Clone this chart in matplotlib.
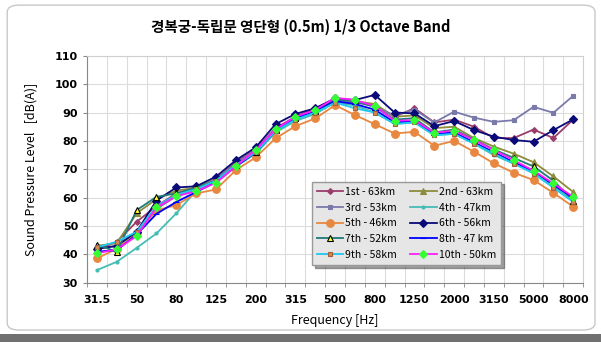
import matplotlib.pyplot as plt
import numpy as np
from matplotlib.patches import FancyBboxPatch, Rectangle

plt.rcParams['font.family'] = ['Noto Sans CJK KR', 'DejaVu Sans']

# 1/3 octave band centre frequencies
bands = ["31.5", "40", "50", "63", "80", "100", "125", "160", "200", "250", "315",
         "400", "500", "630", "800", "1000", "1250", "1600", "2000", "2500",
         "3150", "4000", "5000", "6300", "8000"]

s1 = [41.5, 44.5, 51.5, 57, 61.5, 63.5, 66.5, 72.5, 77, 84.5, 88.5, 91.5, 94.5,
      93.5, 92.5, 88.5, 91.5, 86.5, 87.5, 85, 81, 81, 84, 81, 87.5]
s2 = [43, 44, 54.5, 59.5, 62.5, 63.5, 66.5, 72, 76.5, 84, 88, 90.5, 94.5,
      94, 93, 88.5, 89, 84.5, 85, 81, 78, 75.5, 72.5, 67.5, 62]
s3 = [42, 43, 48, 56, 60.5, 63, 66.5, 72, 77, 84, 88, 90.5, 94,
      94, 92, 89, 91, 86.5, 90.3, 88.2, 86.7, 87.3, 92, 89.9, 95.9]
s4 = [34.5, 37.4, 42.3, 47.4, 54.5, 62.5, 65.5, 71, 75.5, 83, 87, 89.5, 93.5,
      92.5, 90, 86, 86.5, 82, 82.5, 79, 75, 72, 69, 64, 59]
s5 = [38.6, 42, 47.5, 55.5, 57.4, 61.5, 62.9, 69.7, 74.2, 80.9, 85.2, 87.9, 92.6,
      89.1, 85.9, 82.6, 83.2, 78.3, 80, 76.2, 72.1, 68.8, 66.2, 61.7, 56.8]
s6 = [42, 43, 48, 59, 63.6, 64, 67.4, 73.2, 77.7, 85.9, 89.5, 91.5, 95,
      94.4, 96.2, 90, 89.7, 85.2, 87, 83.8, 81.5, 80.3, 79.7, 83.8, 87.6]
s7 = [43.5, 40.9, 55.6, 60.3, 61.5, 63.5, 66, 71.5, 76, 84, 88, 90.5, 94.5,
      94, 92, 87.5, 88, 83, 84, 80.5, 77, 74, 71, 66, 59]
s8 = [41, 41.5, 47, 54.3, 58.5, 62, 65.5, 71, 76, 83.5, 88, 90.5, 94,
      93, 91, 86.5, 87, 82.5, 83, 79.5, 76, 72.5, 69.5, 64.5, 60]
s9 = [42.5, 44.5, 48, 57, 61, 63, 66, 71.5, 76, 83.5, 87.5, 90, 93.5,
      91.5, 90, 86, 86.5, 82, 82.5, 79, 75.5, 72, 68.5, 63.5, 58.5]
s10 = [40.4, 41.8, 46.5, 56.6, 60.5, 62.3, 65.2, 71.1, 76.8, 84.1, 88.5, 90.9, 95.2,
       94.4, 92.3, 87.1, 87.3, 82.9, 83.6, 80.3, 76.8, 73.2, 69.5, 65, 60.3]

names = ["1st - 63km", "2nd - 63km", "3rd - 53km", "4th - 47km", "5th - 46km",
         "6th - 56km", "7th - 52km", "8th - 47 km", "9th - 58km", "10th - 50km"]
series = [s1, s2, s3, s4, s5, s6, s7, s8, s9, s10]

# line colour, marker, marker size, marker face, marker edge
styles = [
    ("#9b3d6b", "D", 3, "#9b3d6b", "#9b3d6b"),
    ("#8c8c3c", "^", 4.5, "#8c8c3c", "#8c8c3c"),
    ("#7a7aaa", "s", 2.2, "#7a7aaa", "#7a7aaa"),
    ("#45bdb5", "o", 2.2, "#45bdb5", "#45bdb5"),
    ("#e8873f", "o", 5.5, "#e8873f", "#e8873f"),
    ("#0a0a78", "D", 4, "#0a0a78", "#0a0a78"),
    ("#1f7a7a", "^", 5, "#ffff33", "#000000"),
    ("#0000ff", "_", 4, "#0000ff", "#0000ff"),
    ("#1ec8f0", "s", 3.2, "#d88850", "#a0603a"),
    ("#ff1cff", "D", 3.8, "#33ff33", "#33ff33"),
]

fig = plt.figure(figsize=(6.01, 3.42), dpi=100)

# rounded frame around the chart and dark strip at the bottom
fig.patches.append(FancyBboxPatch((0.012, 0.035), 0.978, 0.95,
                                  boxstyle="round,pad=0,rounding_size=0.02",
                                  transform=fig.transFigure, facecolor="white",
                                  edgecolor="#c8c8c8", linewidth=1.0, zorder=-2))
fig.patches.append(Rectangle((0, 0), 1, 0.022, transform=fig.transFigure,
                             facecolor="#707070", edgecolor="none", zorder=-2))

ax = fig.add_axes([0.1448, 0.173, 0.8255, 0.664])
ax.set_zorder(1)
ax.patch.set_alpha(0)
x = np.arange(len(bands))

handles = []
for vals, name, (lc, mk, ms, mfc, mec) in zip(series, names, styles):
    h, = ax.plot(x, vals, color=lc, linewidth=1.3, marker=mk, markersize=ms,
                 markerfacecolor=mfc, markeredgecolor=mec, markeredgewidth=0.8,
                 label=name)
    handles.append(h)

ax.set_xlim(-0.5, len(bands) - 0.5)
ax.set_ylim(30, 110)
ax.set_yticks(np.arange(30, 111, 10))
ax.set_xticks(x[::2])
ax.set_xticklabels(bands[::2])
ax.set_xticks(np.arange(-0.5, len(bands), 1), minor=True)

ax.grid(True, which="minor", axis="x", color="#dcdcdc", linewidth=0.8)
ax.grid(True, which="major", axis="y", color="#dcdcdc", linewidth=0.8)
ax.set_axisbelow(True)

ax.tick_params(axis="x", which="major", length=0, pad=9)
ax.tick_params(axis="x", which="minor", length=3, direction="out", color="#888888")
ax.tick_params(axis="y", length=3, direction="out", color="#888888")
for lab in ax.get_xticklabels() + ax.get_yticklabels():
    lab.set_fontsize(8)
    lab.set_fontweight("bold")
    lab.set_family(["DejaVu Sans"])

for side in ["top", "right"]:
    ax.spines[side].set_color("#d0d0d0")
for side in ["left", "bottom"]:
    ax.spines[side].set_color("#888888")

ax.set_xlabel("Frequency [Hz]", fontsize=9, fontweight=500, labelpad=6)
ax.set_ylabel("Sound Pressure Level   [dB(A)]", fontsize=9, labelpad=12)

fig.text(0.5, 0.92, "경복궁-독립문 영단형 (0.5m) 1/3 Octave Band",
         ha="center", va="center", fontsize=10.5, fontweight="bold")

# legend filled row by row: odd runs in the first column, even in the second
order = [0, 2, 4, 6, 8, 1, 3, 5, 7, 9]
leg = ax.legend([handles[i] for i in order], [names[i] for i in order],
                ncol=2, loc="lower left", bbox_to_anchor=(0.443, 0.056, 0.402, 0.383),
                mode="expand", fontsize=7.5, frameon=True, fancybox=False,
                shadow=True, facecolor="#e6e6e6", edgecolor="#999999",
                handlelength=2.5, handletextpad=0.2, labelspacing=0.55,
                borderpad=0.5, columnspacing=1.0)
leg.get_frame().set_alpha(1)

fig.savefig("out.png", dpi=100)
